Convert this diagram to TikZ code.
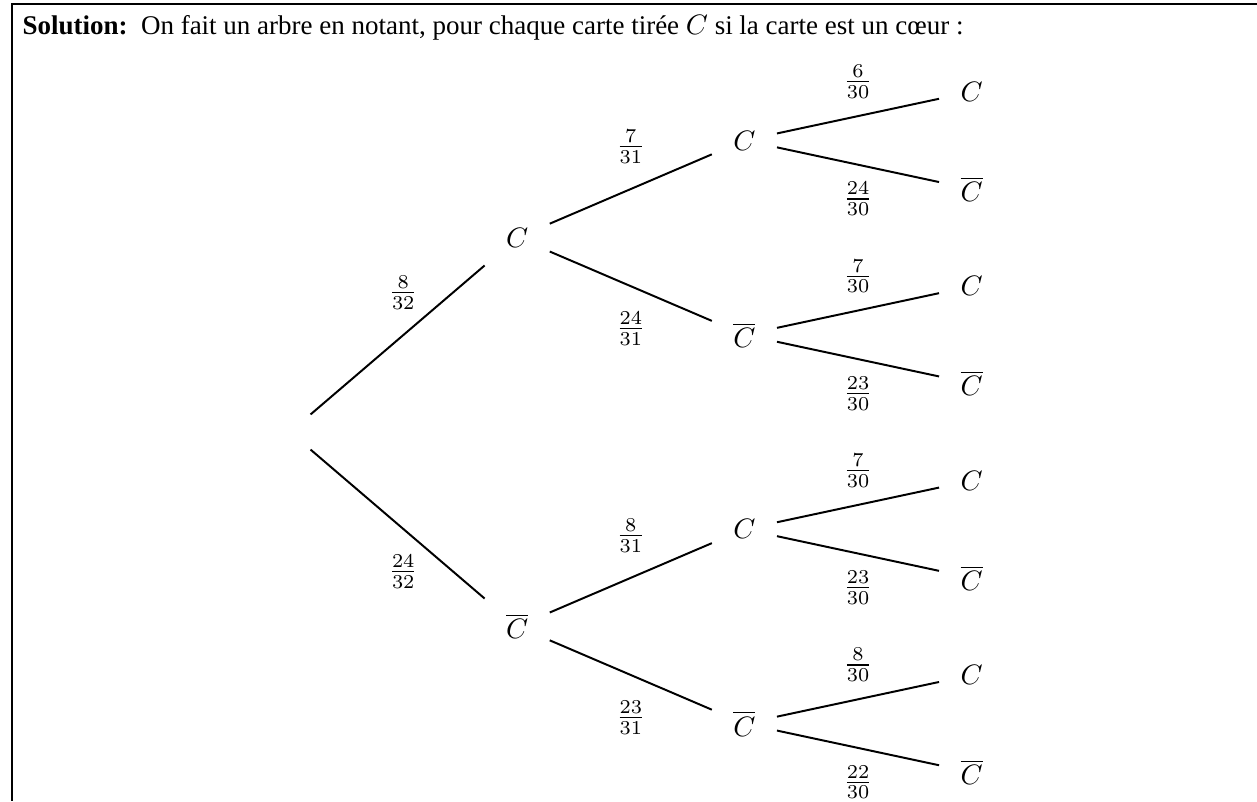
\documentclass[tikz,border=0pt]{standalone}
\usepackage{amsmath,amssymb}
\usepackage{fontspec}
\setmainfont{Liberation Serif}
\usepackage{tikz}

\begin{document}
\begin{tikzpicture}
[
grow'=right,
level distance=2.84cm,
every node/.style={minimum width=0.8cm, minimum height=0.8cm, inner sep=0pt},
level 1/.style={sibling distance=4.86cm},
level 2/.style={sibling distance=2.43cm},
level 3/.style={sibling distance=1.215cm},
proba/.style={minimum width=0pt, minimum height=0pt, inner sep=2pt},
haut/.style={proba, above=#1},
bas/.style={proba, below=#1},
edge from parent/.style={draw, line width=0.7pt}
]
\useasboundingbox (0,0) rectangle (15.7125,-10.0125);
\draw[line width=0.8pt] (15.7125,-0.05) -- (0.15,-0.05) -- (0.15,-10.0125);
\node[anchor=base west, minimum width=0pt, minimum height=0pt, font=\fontsize{9.6}{12}\selectfont] (titre) at (0.275,-0.425)
	{\textbf{Solution:}\enspace On fait un arbre en notant, pour chaque carte tirée $C$ si la carte est un cœur :};

\node[minimum width=0.5cm] (root) at (3.625,-5.4) {}
child {node (c) {$C$}
	child {node (cc) {$C$}
		child {node (ccc) {$C$} edge from parent node[haut=3.9pt] {$\frac{6}{30}$}}
		child {node (cccb) {$\overline{C}$} edge from parent node[bas=3.9pt] {$\frac{24}{30}$}}
		edge from parent node[haut=6.8pt] {$\frac{7}{31}$}
	}
	child {node (ccb) {$\overline{C}$}
		child {node (ccbc) {$C$} edge from parent node[haut=3.9pt] {$\frac{7}{30}$}}
		child {node (ccbcb) {$\overline{C}$} edge from parent node[bas=3.9pt] {$\frac{23}{30}$}}
		edge from parent node[bas=6.8pt] {$\frac{24}{31}$}
	}
	edge from parent node[haut=8.6pt, xshift=2pt] {$\frac{8}{32}$}
}
child {node (cb) {$\overline{C}$}
	child {node (cbc) {$C$}
		child {node (cbcc) {$C$} edge from parent node[haut=3.9pt] {$\frac{7}{30}$}}
		child {node (cbccb) {$\overline{C}$} edge from parent node[bas=3.9pt] {$\frac{23}{30}$}}
		edge from parent node[haut=6.8pt] {$\frac{8}{31}$}
	}
	child {node (cbcb) {$\overline{C}$}
		child {node (cbcbc) {$C$} edge from parent node[haut=3.9pt] {$\frac{8}{30}$}}
		child {node (cbcbcb) {$\overline{C}$} edge from parent node[bas=3.9pt] {$\frac{22}{30}$}}
		edge from parent node[bas=6.8pt] {$\frac{23}{31}$}
	}
	edge from parent node[bas=8.6pt, xshift=2pt] {$\frac{24}{32}$}
};
\end{tikzpicture}
\end{document}
